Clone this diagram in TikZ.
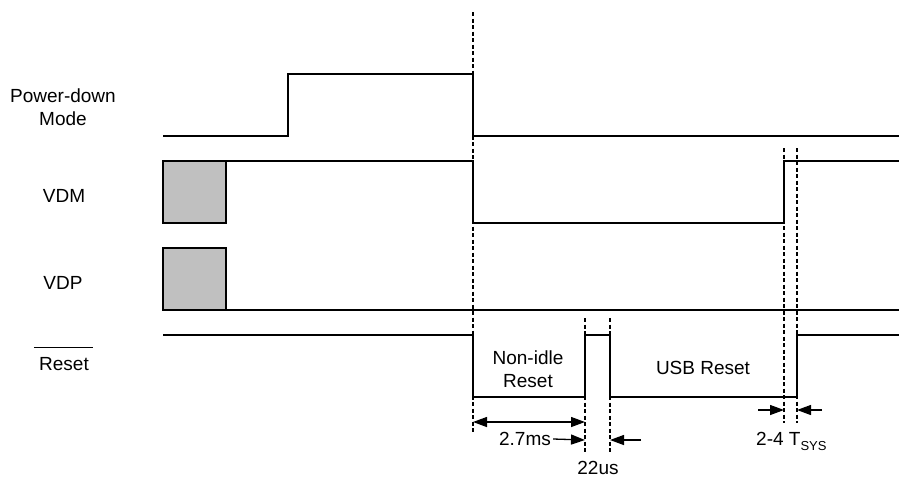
\documentclass[tikz,border=0pt]{standalone}
\usepackage{fontspec}
\setmainfont{Liberation Sans}
\usetikzlibrary{arrows.meta}
\begin{document}
\begin{tikzpicture}[x=1pt,y=-1pt,
  wave/.style={line width=1.3pt, line join=miter},
  guide/.style={line width=1.1pt, dash pattern=on 4pt off 2.5pt},
  lbl/.style={font=\fontsize{19}{23}\selectfont, align=center, inner sep=0pt},
  unk/.style={wave, fill={rgb,255:red,192;green,192;blue,192}},
  dim/.style={line width=1.3pt, -{Triangle[length=14pt,width=10pt]}},
  dimboth/.style={line width=1.3pt, {Triangle[length=14pt,width=10pt]}-{Triangle[length=14pt,width=10pt]}}]
\useasboundingbox (0,0) rectangle (900,480);

% signal labels
\node[lbl] (lpd) at (63,107) {Power-down\\Mode};
\node[lbl] (lvdm) at (64,196) {VDM};
\node[lbl] (lvdp) at (63,283) {VDP};
\node[lbl] (lrst) at (64,364) {Reset};
\draw[line width=1.2pt] ([xshift=-5pt,yshift=10pt]lrst.north west) -- ([xshift=4pt,yshift=10pt]lrst.north east);

% waveforms
\draw[wave] (163,136) -- (288,136) -- (288,74) -- (473,74) -- (473,136) -- (899,136);
\draw[unk] (163,161) rectangle (226,223);
\draw[wave] (226,161) -- (473,161) -- (473,223) -- (784,223) -- (784,161) -- (899,161);
\draw[unk] (163,248) rectangle (226,310);
\draw[wave] (226,310) -- (899,310);
\draw[wave] (163,335) -- (473,335) -- (473,397) -- (585,397) -- (585,335) -- (610,335) -- (610,397) -- (797,397) -- (797,335) -- (899,335);

% guide lines
\coordinate (g1t) at (473,12);  \coordinate (g1b) at (473,432);
\coordinate (g2t) at (585,318); \coordinate (g2b) at (585,452);
\coordinate (g3t) at (610,318); \coordinate (g3b) at (610,452);
\coordinate (g4t) at (784,148); \coordinate (g4b) at (784,423);
\coordinate (g5t) at (797,148); \coordinate (g5b) at (797,423);
\foreach \g in {1,...,5} \draw[guide] (g\g t) -- (g\g b);

% phase texts
\node[lbl] (nir) at (528,369) {Non-idle\\Reset};
\node[lbl] (usb) at (703,368) {USB Reset};

% dimensions
\coordinate (d1a) at (473,422); \coordinate (d1b) at (585,422);
\draw[dimboth] (d1a) -- (d1b);
\node[lbl] (t27) at (525,439) {2.7ms};
\coordinate (d2b) at (585,440);
\draw[dim] ([xshift=2pt]t27.east) -- (d2b);
\coordinate (d3a) at (641,440); \coordinate (d3b) at (610,440);
\draw[dim] (d3a) -- (d3b);
\node[lbl] (t22) at (598,468) {22us};
\coordinate (d4a) at (758,410); \coordinate (d4b) at (784,410);
\draw[dim] (d4a) -- (d4b);
\coordinate (d5a) at (822,410); \coordinate (d5b) at (797,410);
\draw[dim] (d5a) -- (d5b);
\node[lbl, anchor=base west] (tsys) at (756,445) {2-4 T\raisebox{-5pt}{\fontsize{13}{13}\selectfont SYS}};
\end{tikzpicture}
\end{document}
